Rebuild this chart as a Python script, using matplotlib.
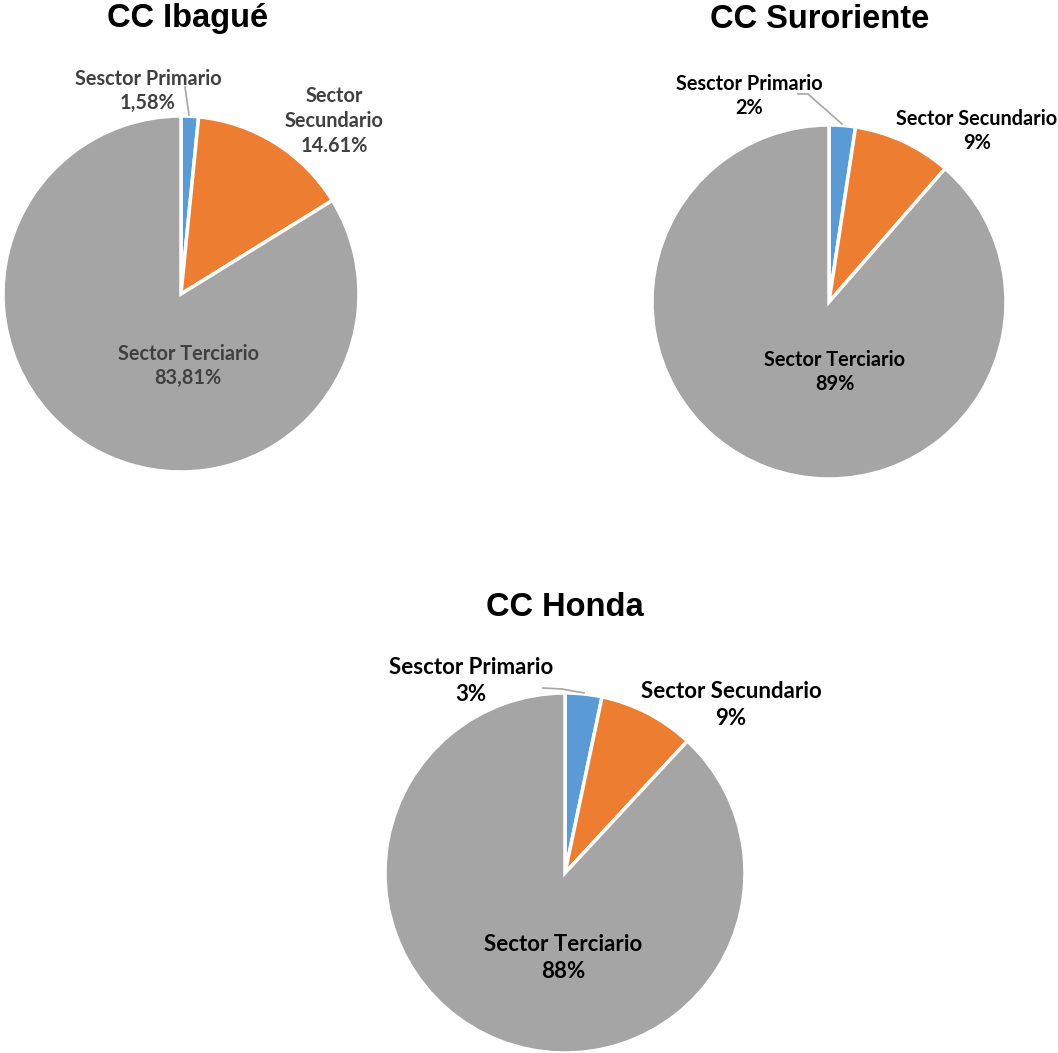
import matplotlib
matplotlib.use("Agg")
import matplotlib.pyplot as plt

W, H = 1058, 1053

categories = ["Sesctor Primario", "Sector Secundario", "Sector Terciario"]
colors = ["#5B9BD5", "#ED7D31", "#A5A5A5"]

titles = ["CC Ibagué", "CC Suroriente", "CC Honda"]
ibague_values = [1.58, 14.61, 83.81]
suroriente_values = [2.4, 9.0, 88.6]
honda_values = [3.3, 8.6, 88.1]

ibague_labels = ["Sesctor Primario\n1,58%", "Sector\nSecundario\n14.61%", "Sector Terciario\n83,81%"]
suroriente_labels = ["Sesctor Primario\n2%", "Sector Secundario\n9%", "Sector Terciario\n89%"]
honda_labels = ["Sesctor Primario\n3%", "Sector Secundario\n9%", "Sector Terciario\n88%"]

fig = plt.figure(figsize=(W / 100, H / 100), dpi=100)
ax = fig.add_axes([0, 0, 1, 1])


def Y(y):
    return H - y


charts = [
    dict(title=titles[0], values=ibague_values, labels=ibague_labels,
         center=(181, 294), r=178, title_xy=(188, 18), txt_color="#404040",
         label_xy=[(148, 91), (334, 121), (188, 366)], ls=1.3, fs=14.3,
         leader=[(189, 115), (185, 87)]),
    dict(title=titles[1], values=suroriente_values, labels=suroriente_labels,
         center=(829, 302), r=177, title_xy=(820, 20), txt_color="black",
         label_xy=[(749, 96), (977, 131), (835, 372)], ls=1.3, fs=14.3,
         leader=[(842, 124), (808, 94), (798, 94)]),
    dict(title=titles[2], values=honda_values, labels=honda_labels,
         center=(565, 873), r=180, title_xy=(565, 607), txt_color="black",
         label_xy=[(471, 681), (731, 705), (563, 958)], ls=1.4, fs=16,
         leader=[(584, 693), (562, 689), (543, 688)]),
]

for c in charts:
    cx, cy = c["center"]
    ax.pie(c["values"], colors=colors, startangle=90, counterclock=False,
           center=(cx, Y(cy)), radius=c["r"], frame=True,
           wedgeprops=dict(edgecolor="white", linewidth=2.5))
    ax.text(c["title_xy"][0], Y(c["title_xy"][1]), c["title"],
            ha="center", va="center", fontsize=23.5, fontweight="bold",
            family="Liberation Sans", color="black")
    for lab, (lx, ly) in zip(c["labels"], c["label_xy"]):
        ax.text(lx, Y(ly), lab, ha="center", va="center", fontsize=c["fs"],
                fontweight="bold", family="Lato", color=c["txt_color"],
                linespacing=c["ls"])
    xs = [p[0] for p in c["leader"]]
    ys = [Y(p[1]) for p in c["leader"]]
    ax.plot(xs, ys, color="#A6A6A6", linewidth=1.2)

ax.set_xlim(0, W)
ax.set_ylim(0, H)
ax.set_aspect("equal")
ax.axis("off")
fig.savefig("out.png", dpi=100, facecolor="white")
